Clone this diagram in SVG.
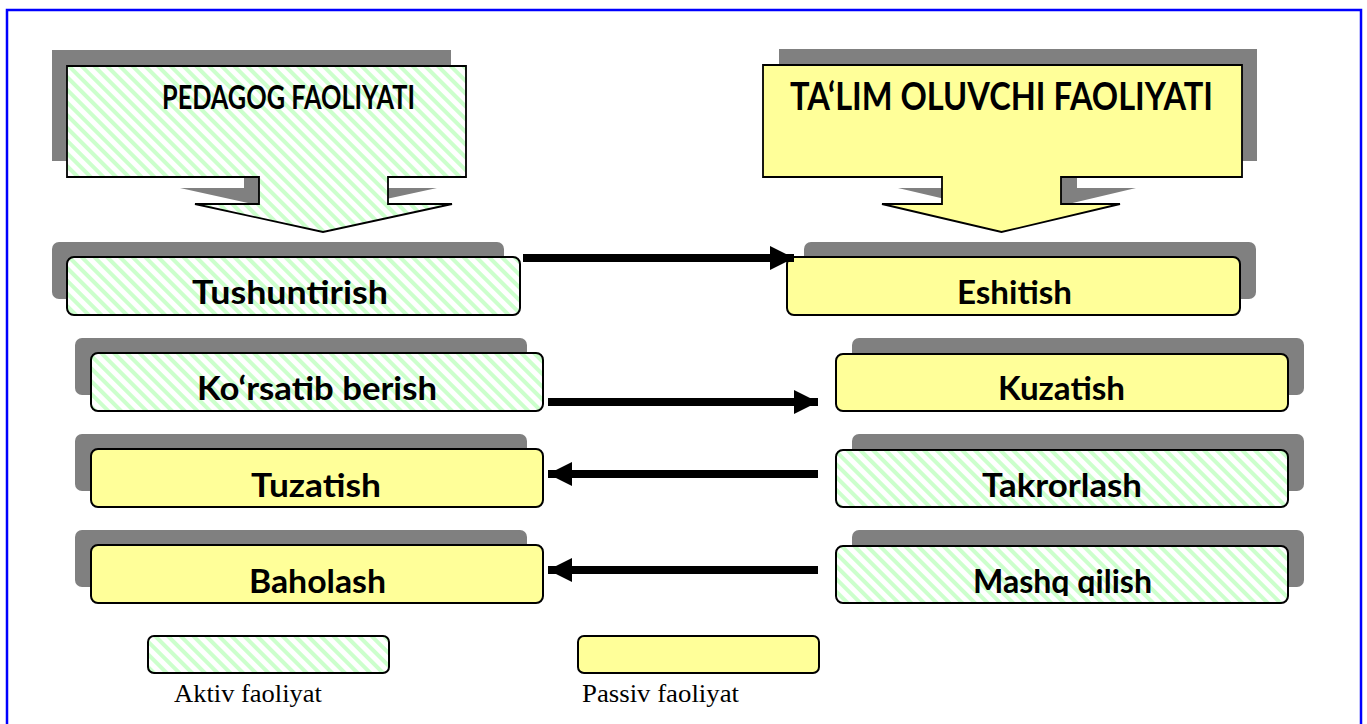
<svg xmlns="http://www.w3.org/2000/svg" width="1367" height="724" viewBox="0 0 1367 724">
<defs>
<pattern id="hatch" patternUnits="userSpaceOnUse" width="9" height="9" patternTransform="rotate(-45)">
<rect width="9" height="9" fill="#ffffff"/>
<rect width="4" height="9" fill="#ccffcc"/>
</pattern>
<marker id="ah" markerUnits="userSpaceOnUse" markerWidth="24" markerHeight="24" refX="24" refY="12" orient="auto">
<path d="M0,0 L24,12 L0,24 Z" fill="#000"/>
</marker>
<clipPath id="clipM"><rect x="836" y="546" width="452" height="50"/></clipPath>
</defs>
<style>
.sh{fill:#808080}
.box{stroke:#000;stroke-width:2}
.g{fill:url(#hatch)}
.y{fill:#ffff99}
.co{stroke:#000;stroke-width:1.8;stroke-linejoin:miter}
.t{font-family:Lato,"Open Sans","Liberation Sans",sans-serif;font-weight:bold;fill:#000}
.lg{font-family:"Liberation Serif","Times New Roman",serif;font-size:25px;fill:#000}
.arr{stroke:#000;stroke-width:8;fill:none}
</style>
<rect x="7" y="10" width="1354" height="730" fill="#fff" stroke="#0000ff" stroke-width="2.5"/>

<g id="pedagog">
<path class="sh" d="M52,50 H451 V161 H373 V188 H437 L308,216 L180,188 H244 V161 H52 Z"/>
<path class="g co" d="M67,66 H466 V177 H388 V204 H452 L323,232 L195,204 H259 V177 H67 Z"/>
<text class="t" x="162" y="109" font-size="32" textLength="253" lengthAdjust="spacingAndGlyphs">PEDAGOG FAOLIYATI</text>
</g>

<g id="talim">
<path class="sh" d="M779,49 H1257 V161 H1077 V188 H1136 L1017.5,216 L898,188 H958 V161 H779 Z"/>
<path class="y co" d="M763,65 H1242 V177 H1061 V204 H1120 L1001.5,232 L882,204 H942 V177 H763 Z"/>
<text class="t" x="790" y="110" font-size="38" textLength="423" lengthAdjust="spacingAndGlyphs">TA‘LIM OLUVCHI FAOLIYATI</text>
</g>

<g id="tushuntirish">
<rect class="sh" x="52" y="242" width="452" height="57" rx="7"/>
<rect class="box g" x="67" y="257" width="453" height="58" rx="7"/>
<text class="t" x="192" y="304" font-size="33" textLength="196" lengthAdjust="spacingAndGlyphs">Tushuntirish</text>
</g>
<g id="korsatib">
<rect class="sh" x="75" y="338" width="452" height="57" rx="7"/>
<rect class="box g" x="91" y="353" width="452" height="58" rx="7"/>
<text class="t" x="197" y="400" font-size="33" textLength="240" lengthAdjust="spacingAndGlyphs">Ko‘rsatib berish</text>
</g>
<g id="tuzatish">
<rect class="sh" x="75" y="434" width="452" height="57" rx="7"/>
<rect class="box y" x="91" y="449" width="452" height="58" rx="7"/>
<text class="t" x="251" y="497" font-size="33" textLength="130" lengthAdjust="spacingAndGlyphs">Tuzatish</text>
</g>
<g id="baholash">
<rect class="sh" x="75" y="530" width="452" height="57" rx="7"/>
<rect class="box y" x="91" y="545" width="452" height="58" rx="7"/>
<text class="t" x="249" y="593" font-size="33" textLength="137" lengthAdjust="spacingAndGlyphs">Baholash</text>
</g>

<g id="eshitish">
<rect class="sh" x="804" y="242" width="452" height="57" rx="7"/>
<rect class="box y" x="787" y="257" width="453" height="58" rx="7"/>
<text class="t" x="957" y="304" font-size="33" textLength="115" lengthAdjust="spacingAndGlyphs">Eshitish</text>
</g>
<g id="kuzatish">
<rect class="sh" x="852" y="338" width="452" height="57" rx="7"/>
<rect class="box y" x="836" y="354" width="452" height="57" rx="7"/>
<text class="t" x="998" y="400" font-size="33" textLength="127" lengthAdjust="spacingAndGlyphs">Kuzatish</text>
</g>
<g id="takrorlash">
<rect class="sh" x="852" y="434" width="452" height="57" rx="7"/>
<rect class="box g" x="836" y="450" width="452" height="57" rx="7"/>
<text class="t" x="982" y="497" font-size="33" textLength="160" lengthAdjust="spacingAndGlyphs">Takrorlash</text>
</g>
<g id="mashq">
<rect class="sh" x="852" y="530" width="452" height="57" rx="7"/>
<rect class="box g" x="836" y="546" width="452" height="57" rx="7"/>
<text class="t" x="973" y="593" font-size="33" textLength="179" lengthAdjust="spacingAndGlyphs" clip-path="url(#clipM)">Mashq qilish</text>
</g>

<g id="connectors">
<line class="arr" x1="523" y1="258" x2="794" y2="258" marker-end="url(#ah)"/>
<line class="arr" x1="548" y1="402" x2="818" y2="402" marker-end="url(#ah)"/>
<line class="arr" x1="818" y1="474" x2="548" y2="474" marker-end="url(#ah)"/>
<line class="arr" x1="818" y1="570" x2="548" y2="570" marker-end="url(#ah)"/>
</g>

<g id="legend-aktiv">
<rect class="box g" x="148" y="636" width="241" height="37" rx="6"/>
<text class="lg" x="174" y="702" textLength="148" lengthAdjust="spacingAndGlyphs">Aktiv faoliyat</text>
</g>
<g id="legend-passiv">
<rect class="box y" x="578" y="636" width="241" height="37" rx="6"/>
<text class="lg" x="582" y="702" textLength="157" lengthAdjust="spacingAndGlyphs">Passiv faoliyat</text>
</g>
</svg>
